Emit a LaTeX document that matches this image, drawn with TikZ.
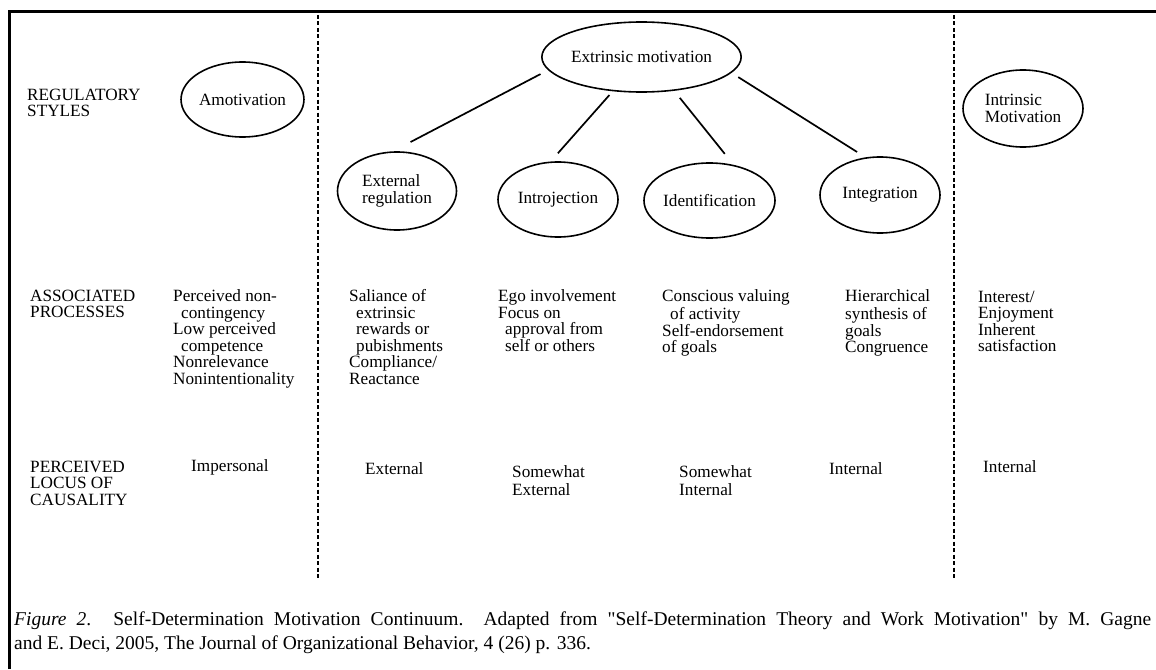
\documentclass[tikz,border=0pt]{standalone}
\usepackage{fontspec}
\setmainfont{Liberation Serif}
\newfontfamily\capfamily{Liberation Serif}[Ligatures=TeXOff]
\usepackage{tikz}
\usetikzlibrary{shapes}
\newcommand{\diafont}{\fontsize{17.2}{16.5}\selectfont}
\newcommand{\capfont}{\capfamily\fontsize{19.5}{24}\selectfont}
\tikzstyle{motive} = [draw, ellipse, line width=1.6pt, inner sep=0pt, align=left, font=\diafont]
\tikzstyle{link} = [draw, line width=1.7pt]
\tikzstyle{txt} = [anchor=north west, inner sep=0pt, align=left, font=\diafont]
\tikzstyle{divider} = [draw, line width=1.5pt, dash pattern=on 4pt off 2.5pt]

\begin{document}
\begin{tikzpicture}[x=1pt, y=-1pt]
        \useasboundingbox (0,0) rectangle (1156,669);
        % frame and column separators
        \draw[line width=2.6pt] (9.5,669) -- (9.5,11.3) -- (1156,11.3);
        \path[divider] (318,15) -- (318,580);
        \path[divider] (954,15) -- (954,580);
        % regulatory styles
        \node[txt] (regstyles) at (27,88.5) {\strut REGULATORY\\STYLES};
        \node[motive, minimum width=119pt, minimum height=75pt] (amot) at (242.5,99.5) {Amotivation};
        \node[motive, minimum width=173pt, minimum height=70pt] (extr) at (641.5,57) {Extrinsic motivation};
        \node[motive, minimum width=119pt, minimum height=78pt] (extreg) at (397,191) {External\\regulation};
        \node[motive, minimum width=120pt, minimum height=75pt] (intro) at (558,199.5) {Introjection};
        \node[motive, minimum width=121pt, minimum height=75pt] (ident) at (709.5,200.5) {Identification};
        \node[motive, minimum width=120pt, minimum height=76pt] (integ) at (880,195) {Integration};
        \node[motive, minimum width=120pt, minimum height=77pt] (intr) at (1023,108.5) {Intrinsic\\Motivation};
        \path[link, shorten <=8.5pt, shorten >=20pt] (extr.188) -- (extreg.96);
        \path[link, shorten <=5pt, shorten >=11pt] (extr.230) -- (intro.101);
        \path[link, shorten <=9pt, shorten >=14pt] (extr.314) -- (ident.56);
        \path[link, shorten <=8pt, shorten >=10pt] (extr.350) -- (integ.111);
        % associated processes
        \node[txt] (assoc) at (30,289.5) {\strut ASSOCIATED\\PROCESSES};
        \node[txt] (amotproc) at (173,289.5) {\strut Perceived non-\\\hspace*{8pt}contingency\\Low perceived\\\hspace*{8pt}competence\\Nonrelevance\\Nonintentionality};
        \node[txt] (extproc) at (349,289.5) {\strut Saliance of\\\hspace*{7pt}extrinsic\\\hspace*{7pt}rewards or\\\hspace*{7pt}pubishments\\Compliance/\\Reactance};
        \node[txt] (introproc) at (498,289.5) {\strut Ego involvement\\Focus on\\\hspace*{7pt}approval from\\\hspace*{7pt}self or others};
        \node[txt] (identproc) at (662,289.5) {\strut Conscious valuing\\\hspace*{8pt}of activity\\Self-endorsement\\of goals};
        \node[txt] (integproc) at (845,289.5) {\strut Hierarchical\\synthesis of\\goals\\Congruence};
        \node[txt] (intrproc) at (978,290.5) {\strut Interest/\\Enjoyment\\Inherent\\satisfaction};
        % perceived locus of causality
        \node[txt] (locus) at (30,460.5) {\strut PERCEIVED\\LOCUS OF\\CAUSALITY};
        \node[txt] (amotlocus) at (191,459.5) {\strut Impersonal};
        \node[txt] (extlocus) at (365,462.5) {\strut External};
        \node[txt] (introlocus) at (512,465.5) {\strut Somewhat\\External};
        \node[txt] (identlocus) at (679,465.5) {\strut Somewhat\\Internal};
        \node[txt] (integlocus) at (829,462.5) {\strut Internal};
        \node[txt] (intrlocus) at (983,460.5) {\strut Internal};
        % caption
        \node[anchor=north west, inner sep=0pt, text width=1137pt, align=justify, font=\capfont] (caption) at (14,608.2) {\strut\textit{Figure 2}. Self-Determination Motivation Continuum.\ \ Adapted from "Self-Determination Theory and Work Motivation" by M. Gagne\linebreak and E. Deci, 2005, The Journal of Organizational Behavior, 4 (26) p. 336.};
    \end{tikzpicture}
\end{document}
